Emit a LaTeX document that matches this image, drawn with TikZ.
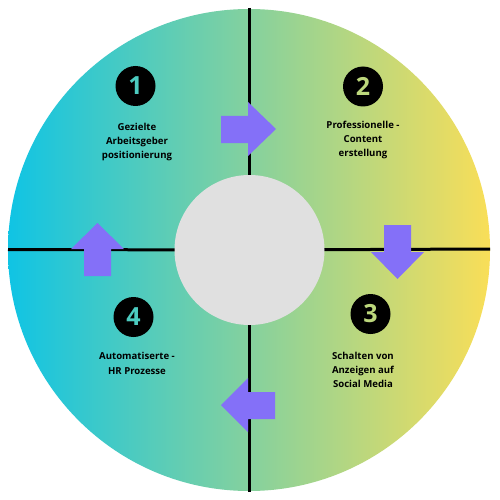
\documentclass[tikz,border=0pt]{standalone}
\usepackage{fontspec}
\setmainfont{Open Sans}
\usepackage{xcolor}
\usepackage{tikz}
\usetikzlibrary{positioning,calc}
\definecolor{ciano}{HTML}{10C4E4}
\definecolor{amarelo}{HTML}{F9DE58}
\definecolor{roxo}{HTML}{8470F8}
\definecolor{cinza}{HTML}{E0E0E0}
\colorlet{numesq}{amarelo!26!ciano}
\colorlet{numdir}{amarelo!74!ciano}

\begin{document}
\begin{tikzpicture}[
      x=1pt, y=-1pt,
      every node/.style={font=\bfseries\fontsize{9.6}{14.3}\selectfont},
      N/.style={circle,fill=black,minimum size=40pt,inner sep=0pt,font=\bfseries\fontsize{25}{25}\selectfont},
      lbl/.style={align=center,text=black},
      arr/.style={fill=roxo},
      sep/.style={line width=3pt,black},
    ]
  \useasboundingbox (0,0) rectangle (500,500);

  % disco com gradiente
  \shade[left color=ciano,right color=amarelo] (249,250) circle (241);
  \coordinate (c) at (249.5,250);
  \coordinate (topo) at (249.5,8);
  \coordinate (base) at (249.5,492);
  \coordinate (esq) at (8,249.5);
  \coordinate (dir) at (490,249);
  \draw[sep] (topo) -- (base);
  \draw[sep] (esq) -- (c);
  \draw[sep] (c) -- (dir);
  \fill[cinza] (c) circle (75);

  % setas entre os quadrantes
  \fill[arr] (221,116) -- (248,116) -- (248,102) -- (276,129) -- (248,156) -- (248,143) -- (221,143) -- cycle;
  \fill[arr] (384,225) -- (411,225) -- (411,252) -- (424,252) -- (397.5,279) -- (371,252) -- (384,252) -- cycle;
  \fill[arr] (275,392) -- (248,392) -- (248,378) -- (221,405) -- (248,432) -- (248,419) -- (275,419) -- cycle;
  \fill[arr] (84,276) -- (111,276) -- (111,249) -- (124,249) -- (97.5,223) -- (71,249) -- (84,249) -- cycle;

  % etapas
  \node[N,text=numesq] (n1) at (135.5,86) {1};
  \node[N,text=numdir] (n2) at (363,86.5) {2};
  \node[N,text=numdir] (n3) at (370.5,314) {3};
  \node[N,text=numesq] (n4) at (133.5,317) {4};

  \node[lbl] (t1) at (137,142) {Gezielte\\ Arbeitsgeber\\ positionierung};
  \node[lbl] (t2) at (363,140) {Professionelle -\\ Content\\ erstellung};
  \node[lbl] (t3) at (363,370) {Schalten von\\ Anzeigen auf\\ Social Media};
  \node[lbl] (t4) at (137,363.5) {Automatiserte -\\ HR Prozesse};
\end{tikzpicture}
\end{document}
